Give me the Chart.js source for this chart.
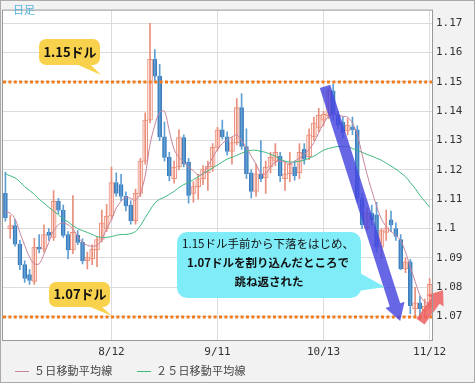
<!DOCTYPE html>
<html>
<head>
<meta charset="utf-8">
<script src="https://cdn.jsdelivr.net/npm/chart.js@4.4.1/dist/chart.umd.min.js"></script>
<style>
  html, body { margin: 0; padding: 0; background: #f0f0f0; }
  #wrap { width: 475px; height: 383px; }
</style>
</head>
<body>
<div id="wrap"><canvas id="fx" width="475" height="383"></canvas></div>
<script>
// EUR/USD daily, 2015/7/13 - 11/12
const open = [1.1120,1.1000,1.1010,1.0947,1.0877,1.0843,1.0820,1.0937,1.0930,1.0987,
1.0970,1.1093,1.1063,1.0980,1.0927,1.0977,1.0953,1.0890,1.0897,1.0927,
1.0963,1.1000,1.1043,1.1157,1.1150,1.1110,1.1080,1.1027,1.1120,1.1230,
1.1370,1.1577,1.1520,1.1313,1.1243,1.1170,1.1210,1.1310,1.1227,1.1120,
1.1143,1.1170,1.1190,1.1210,1.1277,1.1337,1.1313,1.1263,1.1293,1.1413,
1.1280,1.1190,1.1127,1.1187,1.1173,1.1210,1.1230,1.1247,1.1170,1.1187,
1.1210,1.1190,1.1270,1.1245,1.1313,1.1345,1.1370,1.1385,1.1470,1.1387,
1.1363,1.1333,1.1347,1.1337,1.1103,1.1003,1.1053,1.1047,1.0937,1.0987,
1.1030,1.1000,1.0963,1.0863,1.0887,1.0727,1.0747,1.0720,1.0735];
const high = [1.1193,1.1045,1.1030,1.0960,1.0890,1.0860,1.0967,1.0980,1.1013,1.1000,
1.1130,1.1103,1.1080,1.0990,1.1113,1.0993,1.0965,1.0920,1.0945,1.0970,
1.1063,1.1083,1.1210,1.1190,1.1185,1.1125,1.1095,1.1135,1.1240,1.1395,
1.1700,1.1610,1.1560,1.1363,1.1260,1.1230,1.1337,1.1320,1.1240,1.1160,
1.1185,1.1215,1.1230,1.1290,1.1345,1.1370,1.1330,1.1310,1.1443,1.1460,
1.1340,1.1200,1.1220,1.1300,1.1230,1.1260,1.1290,1.1260,1.1225,1.1260,
1.1230,1.1290,1.1290,1.1340,1.1380,1.1410,1.1400,1.1480,1.1493,1.1400,
1.1380,1.1375,1.1380,1.1350,1.1120,1.1070,1.1080,1.1090,1.1000,1.1063,
1.1060,1.1020,1.0980,1.0900,1.0895,1.0800,1.0770,1.0760,1.0830];
const low = [1.1025,1.0967,1.0940,1.0860,1.0817,1.0810,1.0810,1.0917,1.0920,1.0960,
1.0960,1.1050,1.0970,1.0897,1.0915,1.0945,1.0880,1.0863,1.0877,1.0870,
1.0955,1.0990,1.1030,1.1110,1.1095,1.1060,1.1015,1.1015,1.1110,1.1220,
1.1360,1.1500,1.1300,1.1230,1.1163,1.1155,1.1200,1.1210,1.1087,1.1090,
1.1100,1.1150,1.1130,1.1195,1.1265,1.1305,1.1250,1.1220,1.1285,1.1270,
1.1170,1.1105,1.1110,1.1160,1.1120,1.1190,1.1215,1.1160,1.1130,1.1160,
1.1165,1.1170,1.1220,1.1235,1.1300,1.1330,1.1350,1.1375,1.1370,1.1340,
1.1310,1.1320,1.1320,1.1090,1.1000,1.0995,1.1010,1.0920,1.0900,1.0960,
1.0990,1.0960,1.0860,1.0850,1.0710,1.0700,1.0690,1.0700,1.0725];
const close = [1.1037,1.1010,1.0947,1.0877,1.0830,1.0823,1.0937,1.0930,1.0980,1.0977,
1.1093,1.1063,1.0977,1.0927,1.0987,1.0953,1.0890,1.0903,1.0930,1.0963,
1.1020,1.1043,1.1157,1.1120,1.1110,1.1077,1.1027,1.1120,1.1230,1.1370,
1.1577,1.1520,1.1313,1.1243,1.1180,1.1210,1.1310,1.1220,1.1113,1.1143,
1.1170,1.1203,1.1213,1.1277,1.1337,1.1313,1.1263,1.1293,1.1413,1.1280,
1.1187,1.1127,1.1187,1.1170,1.1210,1.1243,1.1260,1.1180,1.1187,1.1220,
1.1180,1.1260,1.1237,1.1320,1.1360,1.1387,1.1390,1.1470,1.1387,1.1353,
1.1327,1.1353,1.1337,1.1103,1.1013,1.1053,1.1030,1.0937,1.0993,1.1003,
1.1013,1.0973,1.0863,1.0887,1.0737,1.0747,1.0727,1.0735,1.0810];

// moving averages
const ma5 = [1.1057,1.1053,1.1033,1.0987,1.0943,1.0903,1.0880,1.0880,1.0913,1.0953,
1.0993,1.1013,1.1020,1.1013,1.1000,1.0973,1.0953,1.0943,1.0940,1.0943,
1.0963,1.1000,1.1030,1.1070,1.1093,1.1107,1.1103,1.1097,1.1120,1.1180,
1.1287,1.1353,1.1397,1.1400,1.1333,1.1270,1.1243,1.1227,1.1210,1.1197,
1.1183,1.1187,1.1213,1.1243,1.1270,1.1290,1.1303,1.1313,1.1320,1.1300,
1.1277,1.1247,1.1220,1.1187,1.1187,1.1210,1.1227,1.1230,1.1227,1.1220,
1.1230,1.1240,1.1253,1.1270,1.1293,1.1327,1.1357,1.1383,1.1390,1.1387,
1.1383,1.1380,1.1360,1.1320,1.1253,1.1187,1.1130,1.1077,1.1033,1.1007,
1.0990,1.0977,1.0960,1.0920,1.0870,1.0820,1.0773,1.0750,1.0743];
const ma25 = [1.1187,1.1180,1.1173,1.1160,1.1143,1.1130,1.1117,1.1100,1.1087,1.1073,
1.1060,1.1047,1.1033,1.1023,1.1010,1.1000,1.0993,1.0987,1.0980,1.0973,
1.0970,1.0970,1.0973,1.0977,1.0980,1.0980,1.0983,1.0990,1.1010,1.1037,
1.1063,1.1087,1.1100,1.1107,1.1117,1.1127,1.1140,1.1150,1.1157,1.1167,
1.1177,1.1187,1.1197,1.1207,1.1217,1.1227,1.1237,1.1243,1.1250,1.1257,
1.1263,1.1267,1.1267,1.1263,1.1260,1.1253,1.1247,1.1237,1.1230,1.1227,
1.1227,1.1230,1.1233,1.1240,1.1247,1.1257,1.1267,1.1273,1.1277,1.1280,
1.1280,1.1280,1.1273,1.1267,1.1260,1.1253,1.1247,1.1240,1.1233,1.1223,
1.1213,1.1203,1.1190,1.1177,1.1157,1.1137,1.1113,1.1093,1.1073];

const tickDates = ["8/12", "9/11", "10/13", "11/12"];
const yTicks = [1.07, 1.08, 1.09, 1.10, 1.11, 1.12, 1.13, 1.14, 1.15, 1.16, 1.17];
const levels = [1.15, 1.07];
const maNames = ["５日移動平均線", "２５日移動平均線"];

// trading days (weekdays) starting 2015/7/13
const labels = [];
for (let d = new Date(2015, 6, 13); labels.length < open.length; d.setDate(d.getDate() + 1)) {
  if (d.getDay() === 0 || d.getDay() === 6) continue;
  labels.push((d.getMonth() + 1) + "/" + d.getDate());
}

const UP = "#e98f7c", UP_FILL = "#fff1ed", DOWN = "#3b7cbc", DOWN_WICK = "#5f9fd4";
const MA5_COLOR = "#c8849c", MA25_COLOR = "#3db87e";

const isUp = open.map((o, i) => close[i] >= o);
const wickUp = low.map((l, i) => isUp[i] ? [l, high[i]] : null);
const wickDn = low.map((l, i) => isUp[i] ? null : [l, high[i]]);
const bodyUp = open.map((o, i) => isUp[i] ? [o, close[i]] : null);
const bodyDn = open.map((o, i) => isUp[i] ? null : [o, close[i]]);

function roundBox(ctx, x, y, w, h, r) {
  ctx.beginPath();
  ctx.moveTo(x + r, y);
  ctx.arcTo(x + w, y, x + w, y + h, r);
  ctx.arcTo(x + w, y + h, x, y + h, r);
  ctx.arcTo(x, y + h, x, y, r);
  ctx.arcTo(x, y, x + w, y, r);
  ctx.closePath();
}

function bubble(ctx, x, y, w, h, r, tail, color) {
  ctx.fillStyle = color;
  roundBox(ctx, x, y, w, h, r);
  ctx.fill();
  ctx.beginPath();
  ctx.moveTo(tail[0], tail[1]);
  ctx.lineTo(tail[2], tail[3]);
  ctx.lineTo(tail[4], tail[5]);
  ctx.closePath();
  ctx.fill();
}

function arrow(ctx, x1, y1, x2, y2, shaft, headW, headL, color) {
  const ang = Math.atan2(y2 - y1, x2 - x1);
  const len = Math.hypot(x2 - x1, y2 - y1);
  ctx.save();
  ctx.translate(x1, y1);
  ctx.rotate(ang);
  ctx.beginPath();
  ctx.moveTo(0, -shaft / 2);
  ctx.lineTo(len - headL, -shaft / 2);
  ctx.lineTo(len - headL, -headW / 2);
  ctx.lineTo(len, 0);
  ctx.lineTo(len - headL, headW / 2);
  ctx.lineTo(len - headL, shaft / 2);
  ctx.lineTo(0, shaft / 2);
  ctx.closePath();
  ctx.fillStyle = color;
  ctx.fill();
  ctx.restore();
}

const deco = {
  id: "deco",
  beforeDraw(chart) {
    const { ctx, chartArea: a } = chart;
    ctx.save();
    ctx.fillStyle = "#f2f2f2";
    ctx.fillRect(0, 0, chart.width, chart.height);
    ctx.fillStyle = "#ffffff";
    ctx.fillRect(a.left, a.top, a.right - a.left, a.bottom - a.top);
    ctx.restore();
  },
  afterDatasetsDraw(chart) {
    const { ctx, chartArea: a, scales: { x, y } } = chart;
    const px = (i, v) => [x.getPixelForValue(i), y.getPixelForValue(v)];
    ctx.save();

    // 1.15 / 1.07 dotted levels
    ctx.strokeStyle = "#f07c1e";
    ctx.lineWidth = 3;
    ctx.setLineDash([3, 2.4]);
    levels.forEach(v => {
      const yy = Math.round(y.getPixelForValue(v));
      ctx.beginPath();
      ctx.moveTo(a.left, yy);
      ctx.lineTo(a.right, yy);
      ctx.stroke();
    });
    ctx.setLineDash([]);

    // down move arrow and bounce arrow
    const [b1x, b1y] = px(66.3, 1.1485);
    const [b2x, b2y] = px(81.9, 1.0685);
    arrow(ctx, b1x, b1y, b2x, b2y, 11, 20, 17, "rgba(70,70,225,0.82)");
    const [r1x, r1y] = px(86.1, 1.0683);
    const [r2x, r2y] = px(90.8, 1.0790);
    arrow(ctx, r1x, r1y, r2x, r2y, 10, 20, 13, "rgba(238,96,96,0.85)");

    // callouts
    ctx.font = "bold 13px 'Noto Sans CJK JP', sans-serif";
    ctx.textAlign = "center";
    ctx.textBaseline = "middle";
    bubble(ctx, 39, 39, 61, 26, 7, [76, 64, 90, 64, 101, 75], "#f8d24c");
    ctx.fillStyle = "#111";
    ctx.fillText("1.15ドル", 70, 52);
    bubble(ctx, 49, 282, 61, 25, 7, [88, 306, 101, 306, 112, 316], "#f8d24c");
    ctx.fillStyle = "#111";
    ctx.fillText("1.07ドル", 80, 294.5);

    bubble(ctx, 177, 232, 184, 66, 10, [358, 272, 358, 291, 385, 287], "#80ecf7");
    ctx.fillStyle = "#111";
    ctx.font = "11.5px 'Noto Sans CJK JP', sans-serif";
    ctx.fillText("1.15ドル手前から下落をはじめ、", 268, 244);
    ctx.font = "bold 11.5px 'Noto Sans CJK JP', sans-serif";
    ctx.fillText("1.07ドルを割り込んだところで", 268, 263);
    ctx.fillText("跳ね返された", 269, 282);
    ctx.restore();
  },
  afterDraw(chart) {
    const { ctx, chartArea: a } = chart;
    ctx.save();
    // frame
    ctx.strokeStyle = "#999";
    ctx.lineWidth = 1;
    ctx.strokeRect(a.left - 0.5, a.top - 0.5, a.right - a.left + 1, a.bottom - a.top + 1);
    ctx.strokeStyle = "#aaa";
    ctx.strokeRect(0.5, 0.5, chart.width - 1, chart.height - 1);

    ctx.fillStyle = "#55b3dc";
    ctx.font = "11px 'Noto Sans CJK JP', sans-serif";
    ctx.textBaseline = "middle";
    ctx.fillText("日足", 13, 10);

    // legend
    const items = [[15, MA5_COLOR], [137, MA25_COLOR]];
    ctx.font = "11px 'Noto Sans CJK JP', sans-serif";
    items.forEach(([lx, col], k) => {
      ctx.strokeStyle = col;
      ctx.beginPath();
      ctx.moveTo(lx, 371.5);
      ctx.lineTo(lx + 14, 371.5);
      ctx.stroke();
      ctx.fillStyle = "#444";
      let tx = lx + 19;
      for (const ch of maNames[k]) {
        ctx.fillText(ch, tx, 371);
        tx += 11.2;
      }
    });
    ctx.restore();
  }
};

const barBase = { grouped: false, order: 2, borderSkipped: false, minBarLength: 1 };

new Chart(document.getElementById("fx"), {
  type: "bar",
  data: {
    labels: labels,
    datasets: [
      { ...barBase, label: "wickUp", data: wickUp, backgroundColor: UP, barThickness: 1 },
      { ...barBase, label: "wickDn", data: wickDn, backgroundColor: DOWN_WICK, barThickness: 1 },
      { ...barBase, label: "up", data: bodyUp, backgroundColor: UP_FILL, borderColor: UP, borderWidth: 1, barThickness: 5 },
      { ...barBase, label: "down", data: bodyDn, backgroundColor: DOWN, borderColor: DOWN, borderWidth: 1, barThickness: 4 },
      { type: "line", label: maNames[0], data: ma5, borderColor: MA5_COLOR, borderWidth: 1, pointRadius: 0, tension: 0.3, order: 0 },
      { type: "line", label: maNames[1], data: ma25, borderColor: MA25_COLOR, borderWidth: 1, pointRadius: 0, tension: 0.3, order: 0 }
    ]
  },
  options: {
    responsive: false,
    animation: false,
    devicePixelRatio: 1,
    layout: { padding: { left: 3, top: 2, right: 0, bottom: 0 } },
    plugins: { legend: { display: false }, tooltip: { enabled: false } },
    scales: {
      x: {
        offset: true,
        grid: { offset: false, color: "#dcdcdc", drawTicks: false },
        border: { display: false },
        afterBuildTicks: s => { s.ticks = s.ticks.filter(t => tickDates.includes(labels[t.value])); },
        afterFit: s => { s.height = 43; },
        ticks: {
          autoSkip: false, maxRotation: 0, padding: 6, color: "#333",
          font: { family: "'DejaVu Sans Mono', monospace", size: 11 },
          callback: function (v) { return this.getLabelForValue(v); }
        }
      },
      y: {
        position: "right",
        min: 1.06203,
        max: 1.17432,
        grid: { color: "#dcdcdc", drawTicks: false },
        border: { display: false },
        afterBuildTicks: s => { s.ticks = yTicks.map(v => ({ value: v })); },
        afterFit: s => { s.width = 43; },
        ticks: {
          padding: 4, color: "#333",
          font: { family: "'DejaVu Sans Mono', monospace", size: 11 },
          callback: v => String(+v.toFixed(2))
        }
      }
    }
  },
  plugins: [deco]
});
</script>
</body>
</html>
